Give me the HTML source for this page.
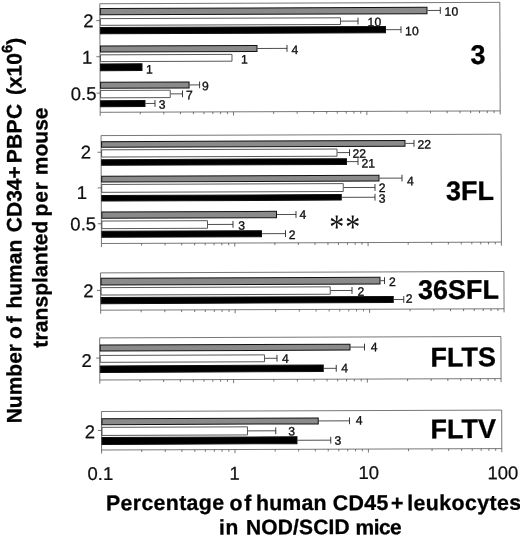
<!DOCTYPE html>
<html><head><meta charset="utf-8"><title>Figure</title>
<style>html,body{margin:0;padding:0;background:#fff}svg{display:block}</style></head>
<body>
<svg width="520" height="537" viewBox="0 0 520 537">
<rect width="520" height="537" fill="#fff"/>
<g transform="rotate(-0.2 260 268)">
<rect x="100.73" y="3.19" width="400.00" height="108.55" fill="none" stroke="#4a4a4a" stroke-width="0.75"/>
<line x1="100.73" y1="111.74" x2="100.73" y2="115.34" stroke="#4a4a4a" stroke-width="0.75"/>
<line x1="140.87" y1="111.74" x2="140.87" y2="113.94" stroke="#4a4a4a" stroke-width="0.75"/>
<line x1="164.35" y1="111.74" x2="164.35" y2="113.94" stroke="#4a4a4a" stroke-width="0.75"/>
<line x1="181.01" y1="111.74" x2="181.01" y2="113.94" stroke="#4a4a4a" stroke-width="0.75"/>
<line x1="193.93" y1="111.74" x2="193.93" y2="113.94" stroke="#4a4a4a" stroke-width="0.75"/>
<line x1="204.49" y1="111.74" x2="204.49" y2="113.94" stroke="#4a4a4a" stroke-width="0.75"/>
<line x1="213.41" y1="111.74" x2="213.41" y2="113.94" stroke="#4a4a4a" stroke-width="0.75"/>
<line x1="221.15" y1="111.74" x2="221.15" y2="113.94" stroke="#4a4a4a" stroke-width="0.75"/>
<line x1="227.97" y1="111.74" x2="227.97" y2="113.94" stroke="#4a4a4a" stroke-width="0.75"/>
<line x1="234.07" y1="111.74" x2="234.07" y2="115.34" stroke="#4a4a4a" stroke-width="0.75"/>
<line x1="274.20" y1="111.74" x2="274.20" y2="113.94" stroke="#4a4a4a" stroke-width="0.75"/>
<line x1="297.68" y1="111.74" x2="297.68" y2="113.94" stroke="#4a4a4a" stroke-width="0.75"/>
<line x1="314.34" y1="111.74" x2="314.34" y2="113.94" stroke="#4a4a4a" stroke-width="0.75"/>
<line x1="327.26" y1="111.74" x2="327.26" y2="113.94" stroke="#4a4a4a" stroke-width="0.75"/>
<line x1="337.82" y1="111.74" x2="337.82" y2="113.94" stroke="#4a4a4a" stroke-width="0.75"/>
<line x1="346.75" y1="111.74" x2="346.75" y2="113.94" stroke="#4a4a4a" stroke-width="0.75"/>
<line x1="354.48" y1="111.74" x2="354.48" y2="113.94" stroke="#4a4a4a" stroke-width="0.75"/>
<line x1="361.30" y1="111.74" x2="361.30" y2="113.94" stroke="#4a4a4a" stroke-width="0.75"/>
<line x1="367.40" y1="111.74" x2="367.40" y2="115.34" stroke="#4a4a4a" stroke-width="0.75"/>
<line x1="407.54" y1="111.74" x2="407.54" y2="113.94" stroke="#4a4a4a" stroke-width="0.75"/>
<line x1="431.01" y1="111.74" x2="431.01" y2="113.94" stroke="#4a4a4a" stroke-width="0.75"/>
<line x1="447.67" y1="111.74" x2="447.67" y2="113.94" stroke="#4a4a4a" stroke-width="0.75"/>
<line x1="460.59" y1="111.74" x2="460.59" y2="113.94" stroke="#4a4a4a" stroke-width="0.75"/>
<line x1="471.15" y1="111.74" x2="471.15" y2="113.94" stroke="#4a4a4a" stroke-width="0.75"/>
<line x1="480.08" y1="111.74" x2="480.08" y2="113.94" stroke="#4a4a4a" stroke-width="0.75"/>
<line x1="487.81" y1="111.74" x2="487.81" y2="113.94" stroke="#4a4a4a" stroke-width="0.75"/>
<line x1="494.63" y1="111.74" x2="494.63" y2="113.94" stroke="#4a4a4a" stroke-width="0.75"/>
<line x1="500.73" y1="111.74" x2="500.73" y2="115.34" stroke="#4a4a4a" stroke-width="0.75"/>
<line x1="97.13" y1="20.09" x2="100.73" y2="20.09" stroke="#4a4a4a" stroke-width="0.75"/>
<text x="94.41" y="26.62" text-anchor="end" font-family="Liberation Sans, Arial, Helvetica, sans-serif" font-size="18.5" fill="#111" stroke="#111" stroke-width="0.25">2</text>
<line x1="97.13" y1="56.14" x2="100.73" y2="56.14" stroke="#4a4a4a" stroke-width="0.75"/>
<text x="93.14" y="63.21" text-anchor="end" font-family="Liberation Sans, Arial, Helvetica, sans-serif" font-size="18.5" fill="#111" stroke="#111" stroke-width="0.25">1</text>
<line x1="97.13" y1="92.54" x2="100.73" y2="92.54" stroke="#4a4a4a" stroke-width="0.75"/>
<text x="97.11" y="99.48" text-anchor="end" font-family="Liberation Sans, Arial, Helvetica, sans-serif" font-size="18.5" fill="#111" stroke="#111" stroke-width="0.25">0.5</text>
<rect x="101.23" y="7.88" width="326.66" height="6.40" fill="#8a8a8a" stroke="#111" stroke-width="1"/>
<line x1="428.40" y1="11.08" x2="441.20" y2="11.08" stroke="#222" stroke-width="0.8"/>
<line x1="441.20" y1="7.68" x2="441.20" y2="14.48" stroke="#222" stroke-width="0.9"/>
<text x="445.50" y="16.38" font-family="Liberation Sans, Arial, Helvetica, sans-serif" font-size="12.2" fill="#111" stroke="#111" stroke-width="0.35">10</text>
<rect x="101.23" y="18.08" width="240.13" height="6.70" fill="#fff" stroke="#3a3a3a" stroke-width="0.85"/>
<line x1="341.86" y1="21.43" x2="358.86" y2="21.43" stroke="#222" stroke-width="0.8"/>
<line x1="358.86" y1="18.03" x2="358.86" y2="24.83" stroke="#222" stroke-width="0.9"/>
<text x="368.46" y="26.73" font-family="Liberation Sans, Arial, Helvetica, sans-serif" font-size="12.2" fill="#111" stroke="#111" stroke-width="0.35">10</text>
<rect x="101.23" y="26.98" width="285.10" height="6.30" fill="#000" stroke="#111" stroke-width="1"/>
<line x1="386.83" y1="30.13" x2="401.83" y2="30.13" stroke="#222" stroke-width="0.8"/>
<line x1="401.83" y1="26.73" x2="401.83" y2="33.53" stroke="#222" stroke-width="0.9"/>
<text x="405.93" y="35.73" font-family="Liberation Sans, Arial, Helvetica, sans-serif" font-size="12.2" fill="#111" stroke="#111" stroke-width="0.35">10</text>
<rect x="101.23" y="45.48" width="156.53" height="6.00" fill="#8a8a8a" stroke="#111" stroke-width="1"/>
<line x1="258.27" y1="48.48" x2="287.77" y2="48.48" stroke="#222" stroke-width="0.8"/>
<line x1="287.77" y1="45.08" x2="287.77" y2="51.88" stroke="#222" stroke-width="0.9"/>
<text x="292.17" y="54.08" font-family="Liberation Sans, Arial, Helvetica, sans-serif" font-size="12.2" fill="#111" stroke="#111" stroke-width="0.35">4</text>
<rect x="101.23" y="54.28" width="131.50" height="6.80" fill="#fff" stroke="#3a3a3a" stroke-width="0.85"/>
<text x="241.83" y="63.48" font-family="Liberation Sans, Arial, Helvetica, sans-serif" font-size="12.2" fill="#111" stroke="#111" stroke-width="0.35">1</text>
<rect x="101.23" y="63.38" width="41.47" height="6.70" fill="#000" stroke="#111" stroke-width="1"/>
<text x="146.80" y="73.03" font-family="Liberation Sans, Arial, Helvetica, sans-serif" font-size="12.2" fill="#111" stroke="#111" stroke-width="0.35">1</text>
<rect x="101.23" y="81.68" width="88.51" height="6.00" fill="#8a8a8a" stroke="#111" stroke-width="1"/>
<line x1="190.24" y1="84.68" x2="200.24" y2="84.68" stroke="#222" stroke-width="0.8"/>
<line x1="200.24" y1="81.28" x2="200.24" y2="88.08" stroke="#222" stroke-width="0.9"/>
<text x="202.54" y="89.98" font-family="Liberation Sans, Arial, Helvetica, sans-serif" font-size="12.2" fill="#111" stroke="#111" stroke-width="0.35">9</text>
<rect x="101.23" y="89.88" width="69.62" height="7.40" fill="#fff" stroke="#3a3a3a" stroke-width="0.85"/>
<line x1="171.36" y1="93.58" x2="183.11" y2="93.58" stroke="#222" stroke-width="0.8"/>
<line x1="183.11" y1="90.18" x2="183.11" y2="96.98" stroke="#222" stroke-width="0.9"/>
<text x="186.71" y="98.88" font-family="Liberation Sans, Arial, Helvetica, sans-serif" font-size="12.2" fill="#111" stroke="#111" stroke-width="0.35">7</text>
<rect x="101.23" y="100.08" width="44.34" height="6.00" fill="#000" stroke="#111" stroke-width="1"/>
<line x1="146.07" y1="103.08" x2="155.57" y2="103.08" stroke="#222" stroke-width="0.8"/>
<line x1="155.57" y1="99.68" x2="155.57" y2="106.48" stroke="#222" stroke-width="0.9"/>
<text x="159.27" y="108.38" font-family="Liberation Sans, Arial, Helvetica, sans-serif" font-size="12.2" fill="#111" stroke="#111" stroke-width="0.35">3</text>
<text x="486.21" y="64.78" text-anchor="end" font-family="Liberation Sans, Arial, Helvetica, sans-serif" font-size="27" font-weight="bold" fill="#000" stroke="#000" stroke-width="0.3">3</text>
<rect x="101.52" y="135.05" width="399.95" height="107.90" fill="none" stroke="#4a4a4a" stroke-width="0.75"/>
<line x1="101.52" y1="242.95" x2="101.52" y2="246.55" stroke="#4a4a4a" stroke-width="0.75"/>
<line x1="141.66" y1="242.95" x2="141.66" y2="245.15" stroke="#4a4a4a" stroke-width="0.75"/>
<line x1="165.13" y1="242.95" x2="165.13" y2="245.15" stroke="#4a4a4a" stroke-width="0.75"/>
<line x1="181.79" y1="242.95" x2="181.79" y2="245.15" stroke="#4a4a4a" stroke-width="0.75"/>
<line x1="194.71" y1="242.95" x2="194.71" y2="245.15" stroke="#4a4a4a" stroke-width="0.75"/>
<line x1="205.26" y1="242.95" x2="205.26" y2="245.15" stroke="#4a4a4a" stroke-width="0.75"/>
<line x1="214.19" y1="242.95" x2="214.19" y2="245.15" stroke="#4a4a4a" stroke-width="0.75"/>
<line x1="221.92" y1="242.95" x2="221.92" y2="245.15" stroke="#4a4a4a" stroke-width="0.75"/>
<line x1="228.74" y1="242.95" x2="228.74" y2="245.15" stroke="#4a4a4a" stroke-width="0.75"/>
<line x1="234.84" y1="242.95" x2="234.84" y2="246.55" stroke="#4a4a4a" stroke-width="0.75"/>
<line x1="274.97" y1="242.95" x2="274.97" y2="245.15" stroke="#4a4a4a" stroke-width="0.75"/>
<line x1="298.45" y1="242.95" x2="298.45" y2="245.15" stroke="#4a4a4a" stroke-width="0.75"/>
<line x1="315.10" y1="242.95" x2="315.10" y2="245.15" stroke="#4a4a4a" stroke-width="0.75"/>
<line x1="328.02" y1="242.95" x2="328.02" y2="245.15" stroke="#4a4a4a" stroke-width="0.75"/>
<line x1="338.58" y1="242.95" x2="338.58" y2="245.15" stroke="#4a4a4a" stroke-width="0.75"/>
<line x1="347.51" y1="242.95" x2="347.51" y2="245.15" stroke="#4a4a4a" stroke-width="0.75"/>
<line x1="355.24" y1="242.95" x2="355.24" y2="245.15" stroke="#4a4a4a" stroke-width="0.75"/>
<line x1="362.06" y1="242.95" x2="362.06" y2="245.15" stroke="#4a4a4a" stroke-width="0.75"/>
<line x1="368.16" y1="242.95" x2="368.16" y2="246.55" stroke="#4a4a4a" stroke-width="0.75"/>
<line x1="408.29" y1="242.95" x2="408.29" y2="245.15" stroke="#4a4a4a" stroke-width="0.75"/>
<line x1="431.76" y1="242.95" x2="431.76" y2="245.15" stroke="#4a4a4a" stroke-width="0.75"/>
<line x1="448.42" y1="242.95" x2="448.42" y2="245.15" stroke="#4a4a4a" stroke-width="0.75"/>
<line x1="461.34" y1="242.95" x2="461.34" y2="245.15" stroke="#4a4a4a" stroke-width="0.75"/>
<line x1="471.90" y1="242.95" x2="471.90" y2="245.15" stroke="#4a4a4a" stroke-width="0.75"/>
<line x1="480.82" y1="242.95" x2="480.82" y2="245.15" stroke="#4a4a4a" stroke-width="0.75"/>
<line x1="488.55" y1="242.95" x2="488.55" y2="245.15" stroke="#4a4a4a" stroke-width="0.75"/>
<line x1="495.37" y1="242.95" x2="495.37" y2="245.15" stroke="#4a4a4a" stroke-width="0.75"/>
<line x1="501.47" y1="242.95" x2="501.47" y2="246.55" stroke="#4a4a4a" stroke-width="0.75"/>
<line x1="97.92" y1="151.69" x2="101.52" y2="151.69" stroke="#4a4a4a" stroke-width="0.75"/>
<text x="91.46" y="157.96" text-anchor="end" font-family="Liberation Sans, Arial, Helvetica, sans-serif" font-size="18.5" fill="#111" stroke="#111" stroke-width="0.25">2</text>
<line x1="97.92" y1="187.34" x2="101.52" y2="187.34" stroke="#4a4a4a" stroke-width="0.75"/>
<text x="87.26" y="198.34" text-anchor="end" font-family="Liberation Sans, Arial, Helvetica, sans-serif" font-size="18.5" fill="#111" stroke="#111" stroke-width="0.25">1</text>
<line x1="97.92" y1="223.19" x2="101.52" y2="223.19" stroke="#4a4a4a" stroke-width="0.75"/>
<text x="96.21" y="229.72" text-anchor="end" font-family="Liberation Sans, Arial, Helvetica, sans-serif" font-size="18.5" fill="#111" stroke="#111" stroke-width="0.25">0.5</text>
<rect x="102.02" y="141.09" width="303.41" height="5.60" fill="#8a8a8a" stroke="#111" stroke-width="1"/>
<line x1="405.93" y1="143.89" x2="414.43" y2="143.89" stroke="#222" stroke-width="0.8"/>
<line x1="414.43" y1="140.49" x2="414.43" y2="147.29" stroke="#222" stroke-width="0.9"/>
<text x="417.83" y="149.19" font-family="Liberation Sans, Arial, Helvetica, sans-serif" font-size="12.2" fill="#111" stroke="#111" stroke-width="0.35">22</text>
<rect x="102.02" y="149.29" width="235.38" height="7.20" fill="#fff" stroke="#3a3a3a" stroke-width="0.85"/>
<line x1="337.90" y1="152.89" x2="349.90" y2="152.89" stroke="#222" stroke-width="0.8"/>
<line x1="349.90" y1="149.49" x2="349.90" y2="156.29" stroke="#222" stroke-width="0.9"/>
<text x="352.80" y="158.19" font-family="Liberation Sans, Arial, Helvetica, sans-serif" font-size="12.2" fill="#111" stroke="#111" stroke-width="0.35">22</text>
<rect x="102.02" y="159.09" width="244.85" height="5.70" fill="#000" stroke="#111" stroke-width="1"/>
<line x1="347.37" y1="161.94" x2="358.37" y2="161.94" stroke="#222" stroke-width="0.8"/>
<line x1="358.37" y1="158.54" x2="358.37" y2="165.34" stroke="#222" stroke-width="0.9"/>
<text x="361.77" y="167.84" font-family="Liberation Sans, Arial, Helvetica, sans-serif" font-size="12.2" fill="#111" stroke="#111" stroke-width="0.35">21</text>
<rect x="102.02" y="175.69" width="277.29" height="5.80" fill="#8a8a8a" stroke="#111" stroke-width="1"/>
<line x1="379.81" y1="178.59" x2="402.31" y2="178.59" stroke="#222" stroke-width="0.8"/>
<line x1="402.31" y1="175.19" x2="402.31" y2="181.99" stroke="#222" stroke-width="0.9"/>
<text x="407.21" y="185.89" font-family="Liberation Sans, Arial, Helvetica, sans-serif" font-size="12.2" fill="#111" stroke="#111" stroke-width="0.35">4</text>
<rect x="102.02" y="183.89" width="241.51" height="7.90" fill="#fff" stroke="#3a3a3a" stroke-width="0.85"/>
<line x1="344.03" y1="187.84" x2="375.28" y2="187.84" stroke="#222" stroke-width="0.8"/>
<line x1="375.28" y1="184.44" x2="375.28" y2="191.24" stroke="#222" stroke-width="0.9"/>
<text x="378.98" y="192.44" font-family="Liberation Sans, Arial, Helvetica, sans-serif" font-size="12.2" fill="#111" stroke="#111" stroke-width="0.35">2</text>
<rect x="102.02" y="194.89" width="239.47" height="5.50" fill="#000" stroke="#111" stroke-width="1"/>
<line x1="342.00" y1="197.64" x2="375.25" y2="197.64" stroke="#222" stroke-width="0.8"/>
<line x1="375.25" y1="194.24" x2="375.25" y2="201.04" stroke="#222" stroke-width="0.9"/>
<text x="378.95" y="203.24" font-family="Liberation Sans, Arial, Helvetica, sans-serif" font-size="12.2" fill="#111" stroke="#111" stroke-width="0.35">3</text>
<rect x="102.02" y="211.39" width="174.66" height="6.40" fill="#8a8a8a" stroke="#111" stroke-width="1"/>
<line x1="277.19" y1="214.59" x2="296.19" y2="214.59" stroke="#222" stroke-width="0.8"/>
<line x1="296.19" y1="211.19" x2="296.19" y2="217.99" stroke="#222" stroke-width="0.9"/>
<text x="299.59" y="218.89" font-family="Liberation Sans, Arial, Helvetica, sans-serif" font-size="12.2" fill="#111" stroke="#111" stroke-width="0.35">4</text>
<rect x="102.02" y="220.49" width="105.63" height="7.60" fill="#fff" stroke="#3a3a3a" stroke-width="0.85"/>
<line x1="208.15" y1="224.29" x2="233.15" y2="224.29" stroke="#222" stroke-width="0.8"/>
<line x1="233.15" y1="220.89" x2="233.15" y2="227.69" stroke="#222" stroke-width="0.9"/>
<text x="238.30" y="229.59" font-family="Liberation Sans, Arial, Helvetica, sans-serif" font-size="12.2" fill="#111" stroke="#111" stroke-width="0.35">3</text>
<rect x="102.02" y="230.69" width="159.59" height="6.00" fill="#000" stroke="#111" stroke-width="1"/>
<line x1="262.12" y1="233.69" x2="285.62" y2="233.69" stroke="#222" stroke-width="0.8"/>
<line x1="285.62" y1="230.29" x2="285.62" y2="237.09" stroke="#222" stroke-width="0.9"/>
<text x="288.77" y="238.99" font-family="Liberation Sans, Arial, Helvetica, sans-serif" font-size="12.2" fill="#111" stroke="#111" stroke-width="0.35">2</text>
<text x="494.24" y="200.81" text-anchor="end" font-family="Liberation Sans, Arial, Helvetica, sans-serif" font-size="27" font-weight="bold" fill="#000" stroke="#000" stroke-width="0.3">3FL</text>
<rect x="100.52" y="272.34" width="403.40" height="37.30" fill="none" stroke="#4a4a4a" stroke-width="0.75"/>
<line x1="100.52" y1="309.64" x2="100.52" y2="313.24" stroke="#4a4a4a" stroke-width="0.75"/>
<line x1="141.00" y1="309.64" x2="141.00" y2="311.84" stroke="#4a4a4a" stroke-width="0.75"/>
<line x1="164.68" y1="309.64" x2="164.68" y2="311.84" stroke="#4a4a4a" stroke-width="0.75"/>
<line x1="181.48" y1="309.64" x2="181.48" y2="311.84" stroke="#4a4a4a" stroke-width="0.75"/>
<line x1="194.51" y1="309.64" x2="194.51" y2="311.84" stroke="#4a4a4a" stroke-width="0.75"/>
<line x1="205.15" y1="309.64" x2="205.15" y2="311.84" stroke="#4a4a4a" stroke-width="0.75"/>
<line x1="214.16" y1="309.64" x2="214.16" y2="311.84" stroke="#4a4a4a" stroke-width="0.75"/>
<line x1="221.95" y1="309.64" x2="221.95" y2="311.84" stroke="#4a4a4a" stroke-width="0.75"/>
<line x1="228.83" y1="309.64" x2="228.83" y2="311.84" stroke="#4a4a4a" stroke-width="0.75"/>
<line x1="234.98" y1="309.64" x2="234.98" y2="313.24" stroke="#4a4a4a" stroke-width="0.75"/>
<line x1="275.46" y1="309.64" x2="275.46" y2="311.84" stroke="#4a4a4a" stroke-width="0.75"/>
<line x1="299.14" y1="309.64" x2="299.14" y2="311.84" stroke="#4a4a4a" stroke-width="0.75"/>
<line x1="315.94" y1="309.64" x2="315.94" y2="311.84" stroke="#4a4a4a" stroke-width="0.75"/>
<line x1="328.97" y1="309.64" x2="328.97" y2="311.84" stroke="#4a4a4a" stroke-width="0.75"/>
<line x1="339.62" y1="309.64" x2="339.62" y2="311.84" stroke="#4a4a4a" stroke-width="0.75"/>
<line x1="348.62" y1="309.64" x2="348.62" y2="311.84" stroke="#4a4a4a" stroke-width="0.75"/>
<line x1="356.42" y1="309.64" x2="356.42" y2="311.84" stroke="#4a4a4a" stroke-width="0.75"/>
<line x1="363.30" y1="309.64" x2="363.30" y2="311.84" stroke="#4a4a4a" stroke-width="0.75"/>
<line x1="369.45" y1="309.64" x2="369.45" y2="313.24" stroke="#4a4a4a" stroke-width="0.75"/>
<line x1="409.93" y1="309.64" x2="409.93" y2="311.84" stroke="#4a4a4a" stroke-width="0.75"/>
<line x1="433.61" y1="309.64" x2="433.61" y2="311.84" stroke="#4a4a4a" stroke-width="0.75"/>
<line x1="450.41" y1="309.64" x2="450.41" y2="311.84" stroke="#4a4a4a" stroke-width="0.75"/>
<line x1="463.44" y1="309.64" x2="463.44" y2="311.84" stroke="#4a4a4a" stroke-width="0.75"/>
<line x1="474.09" y1="309.64" x2="474.09" y2="311.84" stroke="#4a4a4a" stroke-width="0.75"/>
<line x1="483.09" y1="309.64" x2="483.09" y2="311.84" stroke="#4a4a4a" stroke-width="0.75"/>
<line x1="490.89" y1="309.64" x2="490.89" y2="311.84" stroke="#4a4a4a" stroke-width="0.75"/>
<line x1="497.76" y1="309.64" x2="497.76" y2="311.84" stroke="#4a4a4a" stroke-width="0.75"/>
<line x1="503.92" y1="309.64" x2="503.92" y2="313.24" stroke="#4a4a4a" stroke-width="0.75"/>
<line x1="96.92" y1="289.84" x2="100.52" y2="289.84" stroke="#4a4a4a" stroke-width="0.75"/>
<text x="93.47" y="296.61" text-anchor="end" font-family="Liberation Sans, Arial, Helvetica, sans-serif" font-size="18.5" fill="#111" stroke="#111" stroke-width="0.25">2</text>
<rect x="101.02" y="277.78" width="278.94" height="6.60" fill="#8a8a8a" stroke="#111" stroke-width="1"/>
<line x1="380.46" y1="281.08" x2="384.46" y2="281.08" stroke="#222" stroke-width="0.8"/>
<line x1="384.46" y1="277.68" x2="384.46" y2="284.48" stroke="#222" stroke-width="0.9"/>
<text x="388.86" y="286.38" font-family="Liberation Sans, Arial, Helvetica, sans-serif" font-size="12.2" fill="#111" stroke="#111" stroke-width="0.35">2</text>
<rect x="101.02" y="287.08" width="229.15" height="7.40" fill="#fff" stroke="#3a3a3a" stroke-width="0.85"/>
<line x1="330.67" y1="290.78" x2="351.92" y2="290.78" stroke="#222" stroke-width="0.8"/>
<line x1="351.92" y1="287.38" x2="351.92" y2="294.18" stroke="#222" stroke-width="0.9"/>
<text x="357.32" y="296.08" font-family="Liberation Sans, Arial, Helvetica, sans-serif" font-size="12.2" fill="#111" stroke="#111" stroke-width="0.35">2</text>
<rect x="101.02" y="296.88" width="292.12" height="6.20" fill="#000" stroke="#111" stroke-width="1"/>
<line x1="393.64" y1="299.98" x2="403.64" y2="299.98" stroke="#222" stroke-width="0.8"/>
<line x1="403.64" y1="296.58" x2="403.64" y2="303.38" stroke="#222" stroke-width="0.9"/>
<text x="405.54" y="303.38" font-family="Liberation Sans, Arial, Helvetica, sans-serif" font-size="12.2" fill="#111" stroke="#111" stroke-width="0.35">2</text>
<text x="498.89" y="299.58" text-anchor="end" font-family="Liberation Sans, Arial, Helvetica, sans-serif" font-size="27" font-weight="bold" fill="#000" stroke="#000" stroke-width="0.3">36SFL</text>
<rect x="99.43" y="337.34" width="401.25" height="42.10" fill="none" stroke="#4a4a4a" stroke-width="0.75"/>
<line x1="99.43" y1="379.44" x2="99.43" y2="383.04" stroke="#4a4a4a" stroke-width="0.75"/>
<line x1="139.70" y1="379.44" x2="139.70" y2="381.64" stroke="#4a4a4a" stroke-width="0.75"/>
<line x1="163.25" y1="379.44" x2="163.25" y2="381.64" stroke="#4a4a4a" stroke-width="0.75"/>
<line x1="179.96" y1="379.44" x2="179.96" y2="381.64" stroke="#4a4a4a" stroke-width="0.75"/>
<line x1="192.92" y1="379.44" x2="192.92" y2="381.64" stroke="#4a4a4a" stroke-width="0.75"/>
<line x1="203.51" y1="379.44" x2="203.51" y2="381.64" stroke="#4a4a4a" stroke-width="0.75"/>
<line x1="212.46" y1="379.44" x2="212.46" y2="381.64" stroke="#4a4a4a" stroke-width="0.75"/>
<line x1="220.22" y1="379.44" x2="220.22" y2="381.64" stroke="#4a4a4a" stroke-width="0.75"/>
<line x1="227.06" y1="379.44" x2="227.06" y2="381.64" stroke="#4a4a4a" stroke-width="0.75"/>
<line x1="233.18" y1="379.44" x2="233.18" y2="383.04" stroke="#4a4a4a" stroke-width="0.75"/>
<line x1="273.45" y1="379.44" x2="273.45" y2="381.64" stroke="#4a4a4a" stroke-width="0.75"/>
<line x1="297.00" y1="379.44" x2="297.00" y2="381.64" stroke="#4a4a4a" stroke-width="0.75"/>
<line x1="313.71" y1="379.44" x2="313.71" y2="381.64" stroke="#4a4a4a" stroke-width="0.75"/>
<line x1="326.67" y1="379.44" x2="326.67" y2="381.64" stroke="#4a4a4a" stroke-width="0.75"/>
<line x1="337.26" y1="379.44" x2="337.26" y2="381.64" stroke="#4a4a4a" stroke-width="0.75"/>
<line x1="346.21" y1="379.44" x2="346.21" y2="381.64" stroke="#4a4a4a" stroke-width="0.75"/>
<line x1="353.97" y1="379.44" x2="353.97" y2="381.64" stroke="#4a4a4a" stroke-width="0.75"/>
<line x1="360.81" y1="379.44" x2="360.81" y2="381.64" stroke="#4a4a4a" stroke-width="0.75"/>
<line x1="366.93" y1="379.44" x2="366.93" y2="383.04" stroke="#4a4a4a" stroke-width="0.75"/>
<line x1="407.19" y1="379.44" x2="407.19" y2="381.64" stroke="#4a4a4a" stroke-width="0.75"/>
<line x1="430.75" y1="379.44" x2="430.75" y2="381.64" stroke="#4a4a4a" stroke-width="0.75"/>
<line x1="447.46" y1="379.44" x2="447.46" y2="381.64" stroke="#4a4a4a" stroke-width="0.75"/>
<line x1="460.42" y1="379.44" x2="460.42" y2="381.64" stroke="#4a4a4a" stroke-width="0.75"/>
<line x1="471.01" y1="379.44" x2="471.01" y2="381.64" stroke="#4a4a4a" stroke-width="0.75"/>
<line x1="479.96" y1="379.44" x2="479.96" y2="381.64" stroke="#4a4a4a" stroke-width="0.75"/>
<line x1="487.72" y1="379.44" x2="487.72" y2="381.64" stroke="#4a4a4a" stroke-width="0.75"/>
<line x1="494.56" y1="379.44" x2="494.56" y2="381.64" stroke="#4a4a4a" stroke-width="0.75"/>
<line x1="500.68" y1="379.44" x2="500.68" y2="383.04" stroke="#4a4a4a" stroke-width="0.75"/>
<line x1="95.83" y1="357.53" x2="99.43" y2="357.53" stroke="#4a4a4a" stroke-width="0.75"/>
<text x="91.38" y="366.41" text-anchor="end" font-family="Liberation Sans, Arial, Helvetica, sans-serif" font-size="18.5" fill="#111" stroke="#111" stroke-width="0.25">2</text>
<rect x="99.93" y="344.48" width="249.79" height="5.90" fill="#8a8a8a" stroke="#111" stroke-width="1"/>
<line x1="350.22" y1="347.43" x2="364.22" y2="347.43" stroke="#222" stroke-width="0.8"/>
<line x1="364.22" y1="344.03" x2="364.22" y2="350.83" stroke="#222" stroke-width="0.9"/>
<text x="370.37" y="351.73" font-family="Liberation Sans, Arial, Helvetica, sans-serif" font-size="12.2" fill="#111" stroke="#111" stroke-width="0.35">4</text>
<rect x="99.93" y="354.88" width="164.25" height="6.90" fill="#fff" stroke="#3a3a3a" stroke-width="0.85"/>
<line x1="264.68" y1="358.33" x2="276.68" y2="358.33" stroke="#222" stroke-width="0.8"/>
<line x1="276.68" y1="354.93" x2="276.68" y2="361.73" stroke="#222" stroke-width="0.9"/>
<text x="281.58" y="362.93" font-family="Liberation Sans, Arial, Helvetica, sans-serif" font-size="12.2" fill="#111" stroke="#111" stroke-width="0.35">4</text>
<rect x="99.93" y="365.33" width="222.97" height="6.50" fill="#000" stroke="#111" stroke-width="1"/>
<line x1="323.40" y1="368.58" x2="335.90" y2="368.58" stroke="#222" stroke-width="0.8"/>
<line x1="335.90" y1="365.18" x2="335.90" y2="371.98" stroke="#222" stroke-width="0.9"/>
<text x="340.80" y="372.58" font-family="Liberation Sans, Arial, Helvetica, sans-serif" font-size="12.2" fill="#111" stroke="#111" stroke-width="0.35">4</text>
<text x="495.66" y="367.07" text-anchor="end" font-family="Liberation Sans, Arial, Helvetica, sans-serif" font-size="27" font-weight="bold" fill="#000" stroke="#000" stroke-width="0.3">FLTS</text>
<rect x="100.93" y="410.95" width="400.25" height="38.50" fill="none" stroke="#4a4a4a" stroke-width="0.75"/>
<line x1="100.93" y1="449.45" x2="100.93" y2="453.05" stroke="#4a4a4a" stroke-width="0.75"/>
<line x1="141.10" y1="449.45" x2="141.10" y2="451.65" stroke="#4a4a4a" stroke-width="0.75"/>
<line x1="164.59" y1="449.45" x2="164.59" y2="451.65" stroke="#4a4a4a" stroke-width="0.75"/>
<line x1="181.26" y1="449.45" x2="181.26" y2="451.65" stroke="#4a4a4a" stroke-width="0.75"/>
<line x1="194.19" y1="449.45" x2="194.19" y2="451.65" stroke="#4a4a4a" stroke-width="0.75"/>
<line x1="204.75" y1="449.45" x2="204.75" y2="451.65" stroke="#4a4a4a" stroke-width="0.75"/>
<line x1="213.68" y1="449.45" x2="213.68" y2="451.65" stroke="#4a4a4a" stroke-width="0.75"/>
<line x1="221.42" y1="449.45" x2="221.42" y2="451.65" stroke="#4a4a4a" stroke-width="0.75"/>
<line x1="228.24" y1="449.45" x2="228.24" y2="451.65" stroke="#4a4a4a" stroke-width="0.75"/>
<line x1="234.35" y1="449.45" x2="234.35" y2="453.05" stroke="#4a4a4a" stroke-width="0.75"/>
<line x1="274.51" y1="449.45" x2="274.51" y2="451.65" stroke="#4a4a4a" stroke-width="0.75"/>
<line x1="298.00" y1="449.45" x2="298.00" y2="451.65" stroke="#4a4a4a" stroke-width="0.75"/>
<line x1="314.67" y1="449.45" x2="314.67" y2="451.65" stroke="#4a4a4a" stroke-width="0.75"/>
<line x1="327.60" y1="449.45" x2="327.60" y2="451.65" stroke="#4a4a4a" stroke-width="0.75"/>
<line x1="338.17" y1="449.45" x2="338.17" y2="451.65" stroke="#4a4a4a" stroke-width="0.75"/>
<line x1="347.10" y1="449.45" x2="347.10" y2="451.65" stroke="#4a4a4a" stroke-width="0.75"/>
<line x1="354.84" y1="449.45" x2="354.84" y2="451.65" stroke="#4a4a4a" stroke-width="0.75"/>
<line x1="361.66" y1="449.45" x2="361.66" y2="451.65" stroke="#4a4a4a" stroke-width="0.75"/>
<line x1="367.76" y1="449.45" x2="367.76" y2="453.05" stroke="#4a4a4a" stroke-width="0.75"/>
<line x1="407.93" y1="449.45" x2="407.93" y2="451.65" stroke="#4a4a4a" stroke-width="0.75"/>
<line x1="431.42" y1="449.45" x2="431.42" y2="451.65" stroke="#4a4a4a" stroke-width="0.75"/>
<line x1="448.09" y1="449.45" x2="448.09" y2="451.65" stroke="#4a4a4a" stroke-width="0.75"/>
<line x1="461.02" y1="449.45" x2="461.02" y2="451.65" stroke="#4a4a4a" stroke-width="0.75"/>
<line x1="471.58" y1="449.45" x2="471.58" y2="451.65" stroke="#4a4a4a" stroke-width="0.75"/>
<line x1="480.51" y1="449.45" x2="480.51" y2="451.65" stroke="#4a4a4a" stroke-width="0.75"/>
<line x1="488.25" y1="449.45" x2="488.25" y2="451.65" stroke="#4a4a4a" stroke-width="0.75"/>
<line x1="495.08" y1="449.45" x2="495.08" y2="451.65" stroke="#4a4a4a" stroke-width="0.75"/>
<line x1="501.18" y1="449.45" x2="501.18" y2="453.05" stroke="#4a4a4a" stroke-width="0.75"/>
<line x1="97.33" y1="429.84" x2="100.93" y2="429.84" stroke="#4a4a4a" stroke-width="0.75"/>
<text x="94.48" y="437.52" text-anchor="end" font-family="Liberation Sans, Arial, Helvetica, sans-serif" font-size="18.5" fill="#111" stroke="#111" stroke-width="0.25">2</text>
<rect x="101.43" y="418.19" width="216.28" height="5.90" fill="#8a8a8a" stroke="#111" stroke-width="1"/>
<line x1="318.22" y1="421.14" x2="348.97" y2="421.14" stroke="#222" stroke-width="0.8"/>
<line x1="348.97" y1="417.74" x2="348.97" y2="424.54" stroke="#222" stroke-width="0.9"/>
<text x="355.12" y="424.94" font-family="Liberation Sans, Arial, Helvetica, sans-serif" font-size="12.2" fill="#111" stroke="#111" stroke-width="0.35">4</text>
<rect x="101.43" y="426.79" width="145.50" height="8.10" fill="#fff" stroke="#3a3a3a" stroke-width="0.85"/>
<line x1="247.43" y1="430.84" x2="275.18" y2="430.84" stroke="#222" stroke-width="0.8"/>
<line x1="275.18" y1="427.44" x2="275.18" y2="434.24" stroke="#222" stroke-width="0.9"/>
<text x="287.58" y="435.64" font-family="Liberation Sans, Arial, Helvetica, sans-serif" font-size="12.2" fill="#111" stroke="#111" stroke-width="0.35">3</text>
<rect x="101.43" y="436.99" width="194.97" height="6.85" fill="#000" stroke="#111" stroke-width="1"/>
<line x1="296.90" y1="440.41" x2="330.15" y2="440.41" stroke="#222" stroke-width="0.8"/>
<line x1="330.15" y1="437.01" x2="330.15" y2="443.81" stroke="#222" stroke-width="0.9"/>
<text x="333.80" y="445.11" font-family="Liberation Sans, Arial, Helvetica, sans-serif" font-size="12.2" fill="#111" stroke="#111" stroke-width="0.35">3</text>
<text x="495.41" y="438.82" text-anchor="end" font-family="Liberation Sans, Arial, Helvetica, sans-serif" font-size="27" font-weight="bold" fill="#000" stroke="#000" stroke-width="0.3">FLTV</text>
<text transform="translate(329.3,239.0) scale(0.85,1)" font-family="Liberation Serif, Times New Roman, serif" font-size="35.5" letter-spacing="1.2" fill="#111">**</text>
<text x="99.66" y="479.44" text-anchor="middle" font-family="Liberation Sans, Arial, Helvetica, sans-serif" font-size="18.5" fill="#111" stroke="#111" stroke-width="0.25">0.1</text>
<text x="233.96" y="479.66" text-anchor="middle" font-family="Liberation Sans, Arial, Helvetica, sans-serif" font-size="18.5" fill="#111" stroke="#111" stroke-width="0.25">1</text>
<text x="368.06" y="479.28" text-anchor="middle" font-family="Liberation Sans, Arial, Helvetica, sans-serif" font-size="18.5" fill="#111" stroke="#111" stroke-width="0.25">10</text>
<text x="502.16" y="480.15" text-anchor="middle" font-family="Liberation Sans, Arial, Helvetica, sans-serif" font-size="18.5" fill="#111" stroke="#111" stroke-width="0.25">100</text>
<text font-family="Liberation Sans, Arial, Helvetica, sans-serif" font-weight="bold" fill="#000" stroke="#000" stroke-width="0.3" font-size="21.4"><tspan x="105.16" y="509.67" letter-spacing="0.3">Percentage</tspan> <tspan x="228.75" y="510.10" letter-spacing="1.6">of</tspan> <tspan x="255.15" y="510.19" letter-spacing="0.1">human</tspan> <tspan x="331.90" y="510.46" letter-spacing="0.3">CD45</tspan> <tspan x="390.05" y="510.66" letter-spacing="0">+</tspan> <tspan x="406.40" y="510.72" letter-spacing="0.36">leukocytes</tspan></text>
<text font-family="Liberation Sans, Arial, Helvetica, sans-serif" font-weight="bold" fill="#000" stroke="#000" stroke-width="0.3" font-size="21"><tspan x="218.07" y="534.26" letter-spacing="0.6">in</tspan> <tspan x="245.07" y="534.35" letter-spacing="0.15">NOD/SCID</tspan> <tspan x="354.67" y="534.74" letter-spacing="-0.55">mice</tspan></text>
<text transform="rotate(-90)" font-family="Liberation Sans, Arial, Helvetica, sans-serif" font-weight="bold" fill="#000" stroke="#000" stroke-width="0.3" font-size="21"><tspan x="-422.47" y="21.06" letter-spacing="0">Number</tspan> <tspan x="-338.27" y="21.36" letter-spacing="3">of</tspan> <tspan x="-307.77" y="21.46" letter-spacing="0">human</tspan> <tspan x="-231.37" y="21.73" letter-spacing="0">CD34+</tspan> <tspan x="-162.37" y="21.97" letter-spacing="0.3">PBPC</tspan> <tspan x="-94.27" y="22.21" letter-spacing="0">(x10<tspan dy="-9.2" font-size="15">6</tspan><tspan dy="9.2">)</tspan></tspan></text>
<text transform="rotate(-90)" font-family="Liberation Sans, Arial, Helvetica, sans-serif" font-weight="bold" fill="#000" stroke="#000" stroke-width="0.3" font-size="21"><tspan x="-346.96" y="47.32" letter-spacing="0.1">transplanted</tspan> <tspan x="-215.81" y="47.79" letter-spacing="0.9">per</tspan> <tspan x="-174.46" y="47.93" letter-spacing="0">mouse</tspan></text>
</g>
</svg>
</body></html>
